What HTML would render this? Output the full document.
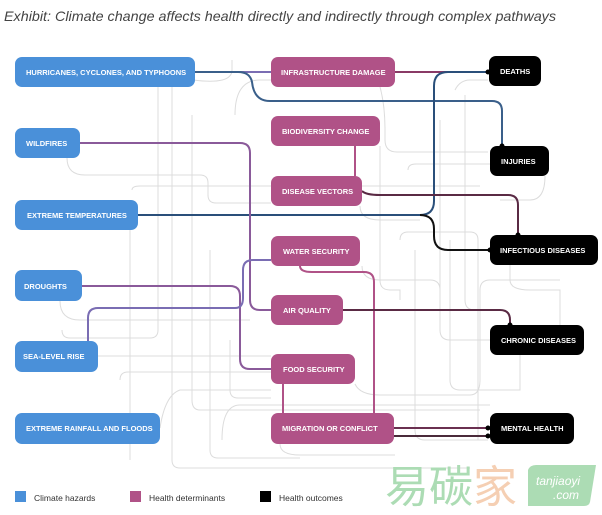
<!DOCTYPE html>
<html><head><meta charset="utf-8"><style>
html,body{margin:0;padding:0;background:#fff;}
svg{display:block;font-family:"Liberation Sans",sans-serif;}
.bt{font-size:7.5px;font-weight:bold;fill:#fff;}
.g{fill:none;stroke:#dcdcdc;stroke-width:1;}
</style></head><body>
<svg width="602" height="515" viewBox="0 0 602 515" xmlns="http://www.w3.org/2000/svg">
<text x="4" y="21" font-size="14" font-style="italic" fill="#444" textLength="552" lengthAdjust="spacingAndGlyphs">Exhibit: Climate change affects health directly and indirectly through complex pathways</text>

<g class="g">
<path d="M158 87 V330 Q158 338 150 338 H70 Q62 338 62 330"/>
<path d="M172 87 V460 Q172 468 180 468 H470"/>
<path d="M67 158 Q67 175 85 175 H200 Q208 175 208 183 V195 Q208 203 216 203 H271"/>
<path d="M132 190 Q132 186 140 186 H480"/>
<path d="M130 230 V460"/>
<path d="M192 115 V400 Q192 410 200 410 H480"/>
<path d="M193 80 Q232 85 232 70 V60"/>
<path d="M235 115 Q235 80 260 80 H271"/>
<path d="M210 250 V450 Q210 458 218 458 H300"/>
<path d="M60 301 Q60 320 80 320 H250"/>
<path d="M98 356 H271"/>
<path d="M120 380 Q120 372 128 372 H300"/>
<path d="M160 428 Q165 395 180 390 H271"/>
<path d="M222 440 Q222 405 240 405 H490"/>
<path d="M380 87 Q385 105 385 130 V140 Q385 152 397 152 H488"/>
<path d="M380 146 V280 Q380 290 390 290 H400 V300"/>
<path d="M408 170 Q408 164 416 164 H490"/>
<path d="M400 240 Q400 232 408 232 H470 Q478 232 478 240 V440"/>
<path d="M415 250 V430 Q415 440 425 440 H488"/>
<path d="M455 90 Q460 80 470 80 H488"/>
<path d="M465 95 V300 Q465 310 475 310 H488"/>
<path d="M450 240 V380 Q450 390 460 390 H520 V355"/>
<path d="M440 120 V330 Q440 340 450 340 H490"/>
<path d="M360 206 Q360 220 380 220 H420"/>
<path d="M362 266 Q362 280 380 280 H430 Q440 280 440 290"/>
<path d="M355 384 Q360 395 380 395 H470 Q480 395 480 380 V290 Q480 280 490 280 H560"/>
<path d="M280 444 Q280 455 300 455 H395"/>
<path d="M230 340 V390 Q230 398 238 398 H271"/>
<path d="M510 265 V280 Q510 290 530 290 H560 V325"/>
<path d="M545 176 Q545 200 530 200 H500"/>
</g>

<g fill="none" stroke-width="2">
<path d="M195 72 H271" stroke="#7a6db3"/>
<path d="M195 72 H238 Q250 72 252 82 Q254 101 270 101 H492 Q502 101 502 111 V146" stroke="#3a5f8a"/>
<path d="M395 72 H488" stroke="#8a3a66"/>
<path d="M138 215 H420 Q434 215 434 201 V86 Q434 72 448 72 H488" stroke="#2a4f7a"/>
<path d="M420 215 Q434 215 434 229 V236 Q434 250 448 250 H490" stroke="#111"/>
<path d="M80 143 H240 Q250 143 250 153 V300 Q250 310 260 310 H271" stroke="#8a5a9a"/>
<path d="M355 146 V176" stroke="#b05287"/>
<path d="M362 191 Q366 195 380 195 H508 Q518 195 518 205 V235" stroke="#5a2a44"/>
<path d="M82 286 H230 Q240 286 240 296 V359 Q240 369 250 369 H271" stroke="#8a5a9a"/>
<path d="M88 341 V318 Q88 308 98 308 H235 Q243 308 243 298 V270 Q243 260 253 260 H271" stroke="#7a6db3"/>
<path d="M300 266 Q300 272 312 272 H364 Q374 272 374 282 V413" stroke="#b05287"/>
<path d="M283 384 V413" stroke="#b05287"/>
<path d="M343 310 H500 Q510 310 510 320 V325" stroke="#5a2a44"/>
<path d="M394 428 H490" stroke="#6a3050"/>
<path d="M394 436 H490" stroke="#4a2a3a"/>
</g>
<g fill="#000"><circle cx="488" cy="72" r="2.5"/><circle cx="502" cy="146" r="2.5"/><circle cx="518" cy="235" r="2.5"/><circle cx="490" cy="250" r="2.5"/><circle cx="510" cy="325" r="2.5"/><circle cx="488" cy="428" r="2.5"/><circle cx="488" cy="436" r="2.5"/></g>

<g fill="#4a90d9">
<rect x="15" y="57" width="180" height="30" rx="7"/>
<rect x="15" y="128" width="65" height="30" rx="7"/>
<rect x="15" y="200" width="123" height="30" rx="7"/>
<rect x="15" y="270" width="67" height="31" rx="7"/>
<rect x="15" y="341" width="83" height="31" rx="7"/>
<rect x="15" y="413" width="145" height="31" rx="7"/>
</g>
<g class="bt">
<text x="26" y="75">HURRICANES, CYCLONES, AND TYPHOONS</text>
<text x="26" y="146">WILDFIRES</text>
<text x="27" y="218">EXTREME TEMPERATURES</text>
<text x="24" y="289">DROUGHTS</text>
<text x="23" y="359">SEA-LEVEL RISE</text>
<text x="26" y="431">EXTREME RAINFALL AND FLOODS</text>
</g>

<g fill="#b05287">
<rect x="271" y="57" width="124" height="30" rx="7"/>
<rect x="271" y="116" width="109" height="30" rx="7"/>
<rect x="271" y="176" width="91" height="30" rx="7"/>
<rect x="271" y="236" width="89" height="30" rx="7"/>
<rect x="271" y="295" width="72" height="30" rx="7"/>
<rect x="271" y="354" width="84" height="30" rx="7"/>
<rect x="271" y="413" width="123" height="31" rx="7"/>
</g>
<g class="bt">
<text x="281" y="75">INFRASTRUCTURE DAMAGE</text>
<text x="282" y="134">BIODIVERSITY CHANGE</text>
<text x="282" y="194">DISEASE VECTORS</text>
<text x="283" y="254">WATER SECURITY</text>
<text x="283" y="313">AIR QUALITY</text>
<text x="283" y="372">FOOD SECURITY</text>
<text x="282" y="431">MIGRATION OR CONFLICT</text>
</g>

<g fill="#000">
<rect x="489" y="56" width="52" height="30" rx="7"/>
<rect x="490" y="146" width="59" height="30" rx="7"/>
<rect x="490" y="235" width="108" height="30" rx="7"/>
<rect x="490" y="325" width="94" height="30" rx="7"/>
<rect x="490" y="413" width="84" height="31" rx="7"/>
</g>
<g class="bt">
<text x="500" y="74">DEATHS</text>
<text x="501" y="164">INJURIES</text>
<text x="500" y="253">INFECTIOUS DISEASES</text>
<text x="501" y="343">CHRONIC DISEASES</text>
<text x="501" y="431">MENTAL HEALTH</text>
</g>

<rect x="15" y="491" width="11" height="11" fill="#4a90d9"/>
<text x="34" y="501" font-size="8.5" fill="#333">Climate hazards</text>
<rect x="130" y="491" width="11" height="11" fill="#b05287"/>
<text x="149" y="501" font-size="8.5" fill="#333">Health determinants</text>
<rect x="260" y="491" width="11" height="11" fill="#000"/>
<text x="279" y="501" font-size="8.5" fill="#333">Health outcomes</text>

<text x="385" y="502" font-size="44" font-family="'Noto Sans CJK SC',sans-serif" fill="#acdcb4">易碳<tspan fill="#f5cfb3">家</tspan></text>
<path d="M528 470 Q530 465 536 465 H596 L590 502 Q589 506 584 506 H528 Z" fill="#acdcb4"/>
<text x="536" y="485" font-size="12" font-style="italic" fill="#fff">tanjiaoyi</text>
<text x="553" y="499" font-size="12" font-style="italic" fill="#fff">.com</text>
</svg>
</body></html>
